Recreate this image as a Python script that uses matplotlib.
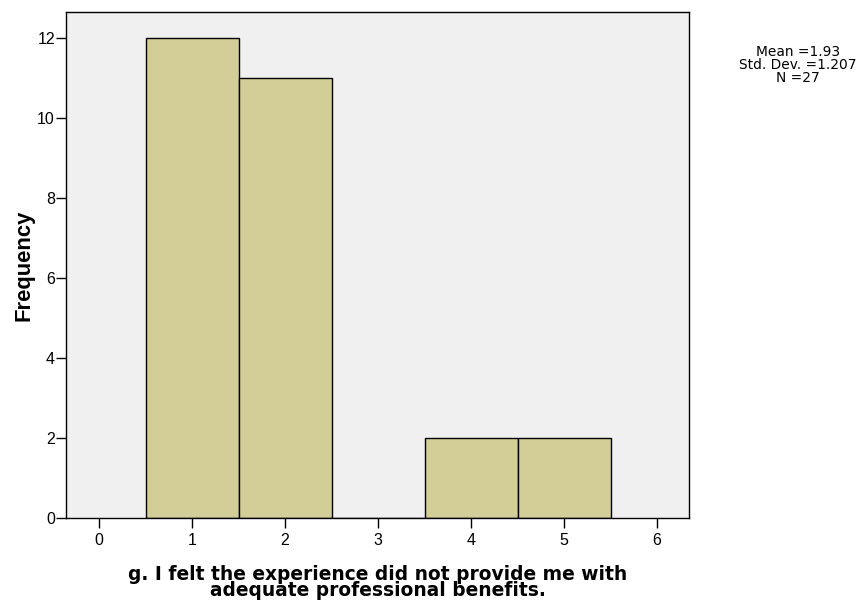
import matplotlib.pyplot as plt
import numpy as np

# 数据
categories = [1, 2, 3, 4, 5]
freq = [12, 11, 0, 2, 2]
xticks = [0, 1, 2, 3, 4, 5, 6]
yticks = [0, 2, 4, 6, 8, 10, 12]
stats_text = "Mean =1.93\nStd. Dev. =1.207\nN =27"
xlabel = "g. I felt the experience did not provide me with\nadequate professional benefits."

plt.rcParams['font.family'] = 'Liberation Sans'

fig = plt.figure(figsize=(8.63, 6.10), dpi=100)
ax = fig.add_axes([66/863, 1-518/610, (689-66)/863, (518-12)/610])
ax.set_facecolor('#F0F0F0')

ax.bar(categories, freq, width=1.0, color='#D3CE97', edgecolor='black', linewidth=1)

ax.set_xlim(-0.355, 6.344)
ax.set_ylim(0, 12.65)
ax.set_xticks(xticks)
ax.set_yticks(yticks)
ax.tick_params(axis='both', labelsize=11.5, width=1, color='black', length=7)
ax.tick_params(axis='x', pad=4)
ax.tick_params(axis='y', pad=1)
for lab in ax.get_xticklabels() + ax.get_yticklabels():
    lab.set_fontfamily('Liberation Sans')
for s in ax.spines.values():
    s.set_linewidth(1)

ax.set_ylabel('Frequency', fontsize=15.8, fontweight='bold', fontfamily='Liberation Sans')
ax.yaxis.set_label_coords((34-66)/623, 0.5)
ax.set_xlabel(xlabel, fontsize=13.4, fontweight='bold', linespacing=0.8,
              fontfamily='DejaVu Sans')
ax.xaxis.set_label_coords(0.5, (518-565)/506)

fig.text(798/863, 1-65/610, stats_text, ha='center', va='center', fontsize=9.9,
         linespacing=0.91, fontfamily='DejaVu Sans')

plt.savefig('out.png', dpi=100)
